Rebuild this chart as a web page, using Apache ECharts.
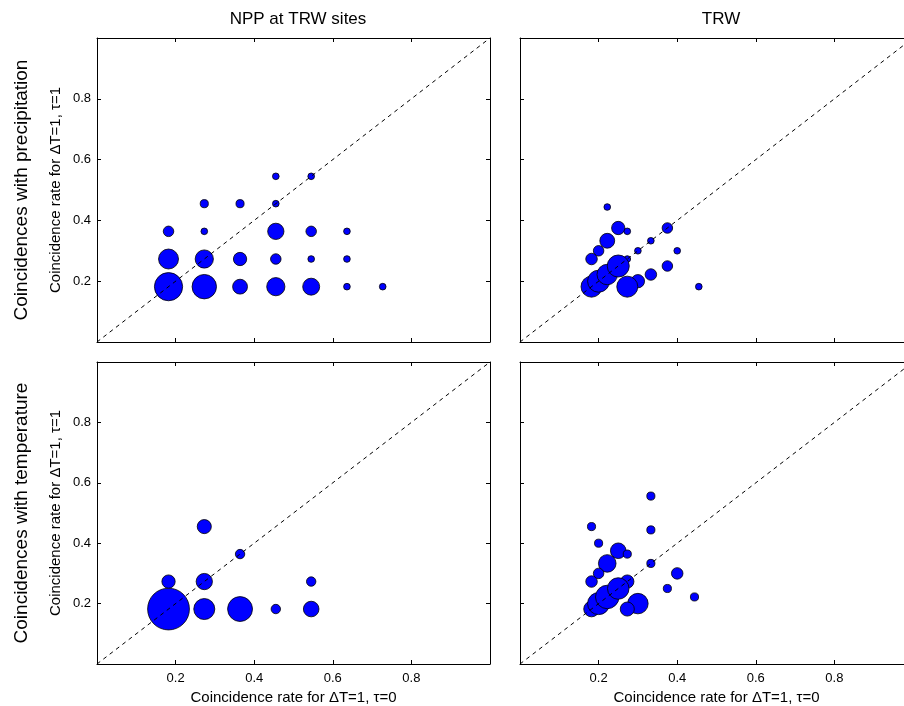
<!DOCTYPE html>
<html>
<head>
<meta charset="utf-8">
<script src="https://cdn.jsdelivr.net/npm/echarts@6/dist/echarts.min.js"></script>
<style>
  html, body { margin: 0; padding: 0; background: #fff; overflow: hidden; }
  /* right panels run past the window edge, as in the original figure */
  #main { width: 920px; height: 706px; }
</style>
</head>
<body>
<div id="main"></div>
<script>
// [x (tau=0 rate), y (tau=1 rate), weight]
var nppPrecip = [
  [0.182, 0.182, 36], [0.273, 0.182, 27], [0.364, 0.182, 10], [0.455, 0.182, 15],
  [0.545, 0.182, 13], [0.636, 0.182, 2], [0.727, 0.182, 2],
  [0.182, 0.273, 18], [0.273, 0.273, 15], [0.364, 0.273, 8], [0.455, 0.273, 5],
  [0.545, 0.273, 2], [0.636, 0.273, 2],
  [0.182, 0.364, 5], [0.273, 0.364, 2], [0.455, 0.364, 12], [0.545, 0.364, 5],
  [0.636, 0.364, 2],
  [0.273, 0.455, 3], [0.364, 0.455, 3], [0.455, 0.455, 2],
  [0.455, 0.545, 2], [0.545, 0.545, 2]
];
var trwPrecip = [
  [0.222, 0.444, 2], [0.25, 0.375, 8], [0.273, 0.364, 2], [0.375, 0.375, 5],
  [0.222, 0.333, 10], [0.333, 0.333, 2], [0.2, 0.3, 5], [0.3, 0.3, 2],
  [0.4, 0.3, 2], [0.182, 0.273, 6], [0.273, 0.273, 2], [0.375, 0.25, 5],
  [0.333, 0.222, 6], [0.3, 0.2, 8], [0.455, 0.182, 2], [0.273, 0.182, 20],
  [0.182, 0.182, 20], [0.2, 0.2, 22], [0.222, 0.222, 19], [0.25, 0.25, 22]
];
var nppTemp = [
  [0.182, 0.182, 79], [0.182, 0.273, 8], [0.273, 0.182, 20], [0.273, 0.273, 12],
  [0.273, 0.455, 9], [0.364, 0.364, 4], [0.364, 0.182, 28], [0.455, 0.182, 4],
  [0.545, 0.182, 11], [0.545, 0.273, 4]
];
var trwTemp = [
  [0.333, 0.556, 3], [0.182, 0.455, 3], [0.333, 0.444, 3], [0.2, 0.4, 3],
  [0.25, 0.375, 11], [0.273, 0.364, 3], [0.222, 0.333, 14], [0.333, 0.333, 3],
  [0.2, 0.3, 5], [0.4, 0.3, 6], [0.182, 0.273, 6], [0.273, 0.273, 8],
  [0.375, 0.25, 3], [0.444, 0.222, 3], [0.3, 0.2, 19], [0.273, 0.182, 9],
  [0.182, 0.182, 11], [0.2, 0.2, 22], [0.222, 0.222, 25], [0.25, 0.25, 21]
];
var diagonal = [[0, 0], [1, 1]];
var columnTitles = ['NPP at TRW sites', 'TRW'];
var rowTitles = ['Coincidences with precipitation', 'Coincidences with temperature'];
var xName = 'Coincidence rate for \u0394T=1, \u03c4=0';
var yName = 'Coincidence rate for \u0394T=1, \u03c4=1';

var panels = [nppPrecip, trwPrecip, nppTemp, trwTemp];
var font = 'Liberation Sans, Arial, sans-serif';

var grids = [
  {left: 97, top: 38, width: 393, height: 304},
  {left: 520, top: 38, width: 393, height: 304},
  {left: 97, top: 362, width: 393, height: 302},
  {left: 520, top: 362, width: 393, height: 302}
];

var xAxes = [], yAxes = [], series = [];
function tickFmt(v) { return v.toFixed(1); }

for (var i = 0; i < 4; i++) {
  var isBottom = i >= 2, isLeft = i % 2 === 0;
  var base = {
    type: 'value', min: 0, max: 1, interval: 0.2, gridIndex: i,
    axisLine: {show: true, onZero: false, lineStyle: {color: '#000', width: 1}},
    axisTick: {show: true, inside: true, length: 4, lineStyle: {color: '#000'}},
    splitLine: {show: false}
  };
  xAxes.push(Object.assign({}, base, {
    position: 'bottom',
    name: isBottom ? xName : '',
    nameLocation: 'middle', nameGap: 26,
    nameTextStyle: {fontFamily: font, fontSize: 15, color: '#000'},
    axisLabel: {show: isBottom, formatter: tickFmt, showMinLabel: false, showMaxLabel: false,
      fontFamily: font, fontSize: 13, color: '#000', margin: 8}
  }));
  xAxes.push(Object.assign({}, base, {position: 'top', axisLabel: {show: false}}));
  yAxes.push(Object.assign({}, base, {
    position: 'left',
    name: isLeft ? yName : '',
    nameLocation: 'middle', nameGap: 34, nameRotate: 90,
    nameTextStyle: {fontFamily: font, fontSize: 15, color: '#000'},
    axisLabel: {show: isLeft, formatter: tickFmt, showMinLabel: false, showMaxLabel: false,
      fontFamily: font, fontSize: 13, color: '#000', margin: 6}
  }));
  yAxes.push(Object.assign({}, base, {position: 'right', axisLabel: {show: false}}));

  series.push({
    type: 'scatter', xAxisIndex: 2 * i, yAxisIndex: 2 * i, z: 2,
    data: panels[i],
    symbolSize: function (d) { return Math.sqrt(d[2]) * 4.7; },
    itemStyle: {color: '#0000ff', borderColor: '#000', borderWidth: 0.8, opacity: 1},
    emphasis: {disabled: true}
  });
  series.push({
    type: 'line', xAxisIndex: 2 * i, yAxisIndex: 2 * i, z: 3,
    data: diagonal, symbol: 'none', silent: true,
    lineStyle: {color: '#000', width: 1, type: [4, 4]}
  });
}

var chart = echarts.init(document.getElementById('main'));
chart.setOption({
  backgroundColor: '#fff',
  animation: false,
  title: [
    {text: columnTitles[0], left: 293, top: 6, textAlign: 'center',
      textStyle: {fontFamily: font, fontSize: 17, fontWeight: 'normal', color: '#000'}},
    {text: columnTitles[1], left: 716, top: 6, textAlign: 'center',
      textStyle: {fontFamily: font, fontSize: 17, fontWeight: 'normal', color: '#000'}}
  ],
  graphic: [
    {type: 'text', x: 22, y: 190, rotation: Math.PI / 2,
      style: {text: rowTitles[0], fontFamily: font, fontSize: 19, fill: '#000',
        textAlign: 'center', textVerticalAlign: 'middle'}},
    {type: 'text', x: 22, y: 513, rotation: Math.PI / 2,
      style: {text: rowTitles[1], fontFamily: font, fontSize: 19, fill: '#000',
        textAlign: 'center', textVerticalAlign: 'middle'}}
  ],
  grid: grids,
  xAxis: xAxes,
  yAxis: yAxes,
  series: series
});
</script>
</body>
</html>
